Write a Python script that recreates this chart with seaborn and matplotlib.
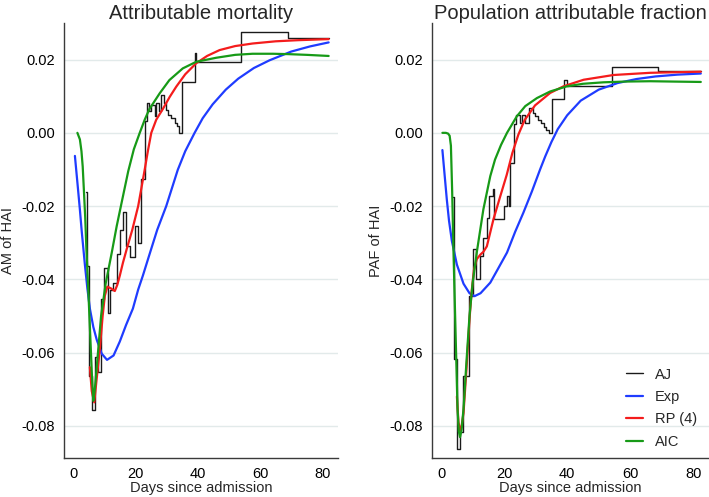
import pandas as pd
import matplotlib
matplotlib.use("Agg")
import matplotlib.pyplot as plt
import seaborn as sns

# ==================== data ====================
# Attributable mortality (left panel)
am_aj_t = [4.0, 4.6, 5.0, 6.0, 7.0, 8.0, 9.0, 9.9, 11.1, 12.0, 12.9, 14.0, 15.0, 16.1,
           17.1, 18.2, 19.8, 20.7, 21.9, 23.0, 23.7, 24.4, 25.1, 26.2, 26.7, 27.5, 28.3,
           29.1, 29.7, 30.5, 31.5, 32.6, 33.3, 34.0, 35.0, 39.0, 39.5, 54.0, 69.0, 82.0]
am_aj_v = [-0.0162, -0.0365, -0.0665, -0.0757, -0.0612, -0.0652, -0.0455, -0.0368, -0.0493,
           -0.0430, -0.0410, -0.0332, -0.0264, -0.0216, -0.0309, -0.0340, -0.0254, -0.0300,
           -0.0127, 0.0032, 0.0082, 0.0059, 0.0077, 0.0045, 0.0082, 0.0059, 0.0104, 0.0082,
           0.0063, 0.0050, 0.0041, 0.0027, 0.0018, 0.0000, 0.0140, 0.0219, 0.0194, 0.0276,
           0.0260, 0.0260]

am_exp_t = [0.6, 1.5, 2.2, 2.8, 3.8, 4.6, 5.4, 6.5, 7.6, 9.2, 10.9, 13.0, 15.0, 17.0, 19.2,
            20.9, 22.4, 24.6, 27.0, 29.9, 33.6, 36.0, 39.0, 41.6, 44.8, 49.0, 53.0, 58.0,
            63.0, 70.0, 76.0, 82.0]
am_exp_v = [-0.0063, -0.0145, -0.0210, -0.0270, -0.0360, -0.0425, -0.0480, -0.0530, -0.0565,
            -0.0603, -0.0620, -0.0608, -0.0570, -0.0525, -0.0480, -0.0428, -0.0390, -0.0330,
            -0.0265, -0.0200, -0.0101, -0.0050, 0.0000, 0.0040, 0.0078, 0.0118, 0.0148,
            0.0177, 0.0198, 0.0222, 0.0236, 0.0247]

am_rp_t = [5.4, 6.0, 6.8, 7.6, 8.6, 9.5, 10.2, 11.0, 12.2, 13.4, 14.2, 15.0, 16.0, 17.2,
           19.0, 20.9, 23.0, 24.0, 25.1, 26.7, 28.8, 31.0, 33.1, 36.0, 39.5, 43.0, 47.0,
           52.0, 57.6, 65.0, 72.0, 82.0]
am_rp_v = [-0.0640, -0.0705, -0.0736, -0.0670, -0.0590, -0.0500, -0.0445, -0.0420, -0.0425,
           -0.0432, -0.0415, -0.0390, -0.0355, -0.0318, -0.0265, -0.0200, -0.0100, -0.0050,
           0.0000, 0.0036, 0.0065, 0.0098, 0.0126, 0.0160, 0.0190, 0.0210, 0.0226, 0.0237,
           0.0244, 0.0250, 0.0253, 0.0256]

am_aic_t = [1.4, 2.2, 2.7, 3.1, 3.5, 3.9, 4.3, 5.0, 5.6, 6.1, 6.5, 7.0, 8.1, 9.0, 10.5,
            12.4, 14.0, 15.6, 17.7, 19.5, 21.4, 23.0, 24.5, 27.8, 30.9, 35.2, 39.5, 45.9,
            52.0, 57.6, 64.0, 69.0, 75.0, 82.0]
am_aic_v = [0.0000, -0.0018, -0.0050, -0.0092, -0.0160, -0.0230, -0.0320, -0.0450, -0.0570,
            -0.0670, -0.0732, -0.0700, -0.0590, -0.0500, -0.0410, -0.0328, -0.0255, -0.0190,
            -0.0105, -0.0045, 0.0000, 0.0036, 0.0065, 0.0108, 0.0144, 0.0176, 0.0194,
            0.0205, 0.0213, 0.0216, 0.0216, 0.0215, 0.0213, 0.0210]

# Population attributable fraction (right panel)
paf_aj_t = [3.8, 4.1, 5.0, 6.0, 7.0, 8.9, 10.1, 11.0, 12.4, 13.4, 14.5, 15.3, 16.4, 16.9,
            19.8, 20.9, 21.5, 22.0, 23.0, 23.7, 24.9, 25.6, 26.7, 28.0, 29.1, 29.8, 30.6,
            31.7, 32.7, 33.3, 34.1, 35.1, 39.1, 39.9, 54.2, 68.9, 82.4]
paf_aj_v = [-0.0174, -0.0618, -0.0863, -0.0816, -0.0663, -0.0445, -0.0318, -0.0400, -0.0336,
            -0.0286, -0.0232, -0.0173, -0.0153, -0.0236, -0.0200, -0.0173, -0.0200, -0.0082,
            0.0023, 0.0050, 0.0027, 0.0050, 0.0027, 0.0068, 0.0054, 0.0046, 0.0036, 0.0027,
            0.0016, 0.0008, 0.0000, 0.0093, 0.0143, 0.0127, 0.0181, 0.0170, 0.0170]

paf_exp_t = [0.4, 1.0, 1.8, 2.5, 3.4, 5.0, 7.1, 9.0, 10.6, 12.5, 15.6, 18.0, 20.9, 23.5,
             26.1, 28.8, 31.4, 33.0, 35.0, 37.0, 40.0, 44.3, 50.0, 56.0, 62.0, 68.0, 75.0,
             82.4]
paf_exp_v = [-0.0047, -0.0105, -0.0182, -0.0240, -0.0295, -0.0360, -0.0412, -0.0438, -0.0446,
             -0.0438, -0.0409, -0.0372, -0.0327, -0.0270, -0.0218, -0.0160, -0.0100, -0.0065,
             -0.0025, 0.0010, 0.0048, 0.0088, 0.0118, 0.0136, 0.0147, 0.0154, 0.0159, 0.0162]

paf_rp_t = [5.0, 5.5, 6.0, 6.5, 7.1, 8.0, 9.0, 9.6, 10.4, 11.3, 12.5, 13.4, 14.5, 15.5,
            16.6, 18.7, 20.8, 22.6, 24.5, 26.5, 29.8, 34.6, 38.8, 45.2, 54.7, 66.4, 82.4]
paf_rp_v = [-0.0720, -0.0790, -0.0813, -0.0800, -0.0765, -0.0650, -0.0510, -0.0440, -0.0375,
            -0.0345, -0.0332, -0.0325, -0.0310, -0.0275, -0.0236, -0.0175, -0.0115, -0.0055,
            -0.0005, 0.0035, 0.0075, 0.0109, 0.0127, 0.0145, 0.0158, 0.0164, 0.0167]

paf_aic_t = [0.4, 1.5, 2.2, 2.7, 3.1, 3.5, 3.9, 4.5, 5.2, 5.6, 6.0, 6.5, 7.1, 8.0, 9.0,
             10.0, 11.3, 13.4, 15.6, 17.1, 19.0, 20.9, 24.0, 26.7, 30.4, 34.6, 39.9, 45.0,
             51.5, 58.0, 66.4, 74.0, 82.4]
paf_aic_v = [0.0000, 0.0000, -0.0002, -0.0008, -0.0035, -0.0160, -0.0318, -0.0520, -0.0754,
             -0.0815, -0.0831, -0.0810, -0.0754, -0.0630, -0.0500, -0.0410, -0.0327, -0.0209,
             -0.0118, -0.0073, -0.0033, 0.0000, 0.0045, 0.0073, 0.0095, 0.0113, 0.0127,
             0.0134, 0.0138, 0.0140, 0.0141, 0.0140, 0.0139]

series_names = ["AJ", "Exp", "RP (4)", "AIC"]
series_colors = ["#1a1a1a", "#1f3cff", "#f41c1c", "#179a17"]
y_ticks = [-0.08, -0.06, -0.04, -0.02, 0.00, 0.02]
x_ticks = [0, 20, 40, 60, 80]

# ==================== style ====================
sns.set_style("white")
plt.rcParams["font.family"] = ["Liberation Sans", "DejaVu Sans"]
plt.rcParams["axes.unicode_minus"] = False

AXIS_COL = "#3a3a3a"
GRID_COL = "#e2eaea"


def draw_panel(ax, data, title, ylabel, show_legend):
    widths = [1.0, 1.6, 1.6, 1.6]
    for (t, v), name, col, lw in zip(data, series_names, series_colors, widths):
        df = pd.DataFrame({"t": t, "v": v})
        kw = {"drawstyle": "steps-post"} if name == "AJ" else {}
        sns.lineplot(data=df, x="t", y="v", ax=ax, color=col, linewidth=lw,
                     estimator=None, sort=False, label=name, legend=False, **kw)
    ax.set_xlim(-2.9, 85.0)
    ax.set_ylim(-0.0888, 0.0300)
    ax.set_xticks(x_ticks)
    ax.set_yticks(y_ticks)
    ax.set_yticklabels([f"{y:.2f}" for y in y_ticks])
    ax.yaxis.grid(True, color=GRID_COL, linewidth=1.0)
    ax.xaxis.grid(False)
    ax.set_axisbelow(True)
    for s in ["top", "right"]:
        ax.spines[s].set_visible(False)
    for s in ["left", "bottom"]:
        ax.spines[s].set_color(AXIS_COL)
        ax.spines[s].set_linewidth(1.0)
    ax.tick_params(axis="both", direction="out", length=4.5, width=0.9, color=AXIS_COL,
                   labelsize=10.5, pad=2, labelcolor="black")
    ax.set_title(title, fontsize=14.5, pad=3)
    ax.set_xlabel("Days since admission", fontsize=10.5, labelpad=0)
    ax.set_ylabel(ylabel, fontsize=10.5, labelpad=5)
    if show_legend:
        ax.legend(loc="upper left", bbox_to_anchor=(0.70, 0.208), frameon=False,
                  fontsize=10.5, handlelength=1.2, handletextpad=0.8, labelspacing=0.58,
                  borderpad=0, borderaxespad=0)


fig = plt.figure(figsize=(7.09, 4.97), dpi=100)
ax1 = fig.add_axes([64 / 709, 39 / 497, 274 / 709, 435 / 497])
ax2 = fig.add_axes([432 / 709, 39 / 497, 277 / 709, 435 / 497])

draw_panel(ax1, [(am_aj_t, am_aj_v), (am_exp_t, am_exp_v), (am_rp_t, am_rp_v),
                 (am_aic_t, am_aic_v)], "Attributable mortality", "AM of HAI", False)
draw_panel(ax2, [(paf_aj_t, paf_aj_v), (paf_exp_t, paf_exp_v), (paf_rp_t, paf_rp_v),
                 (paf_aic_t, paf_aic_v)], "Population attributable fraction", "PAF of HAI", True)

fig.savefig("out.png", dpi=100)
